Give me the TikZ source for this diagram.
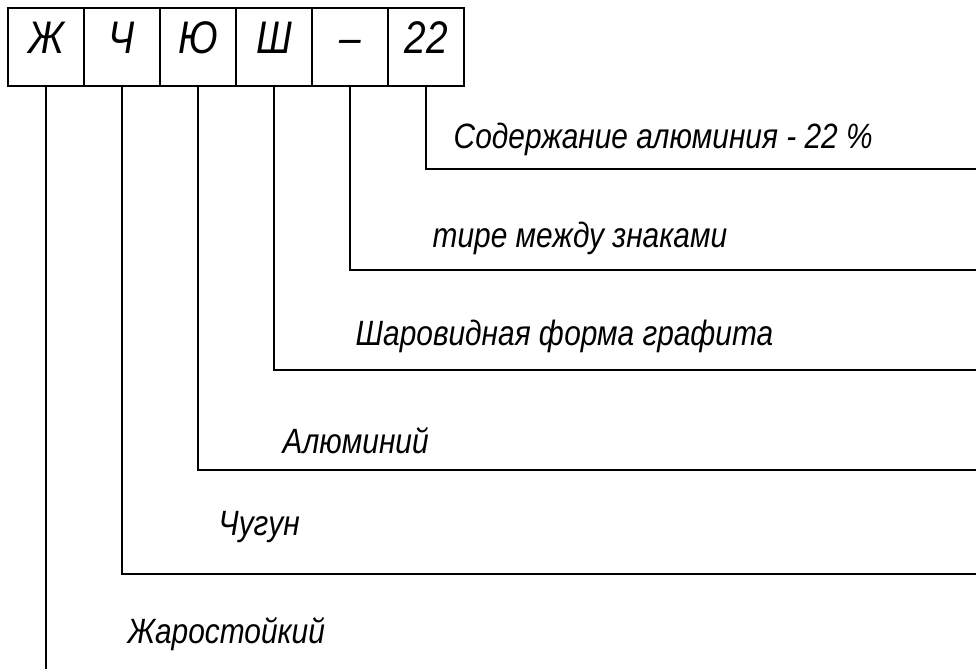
\documentclass[tikz,border=0pt]{standalone}
\usepackage{fontspec}
\setmainfont{Liberation Sans}[FakeStretch=0.85]

\begin{document}
\begin{tikzpicture}[x=0.02cm, y=-0.02cm, line width=0.8pt,
    font=\fontsize{20}{24}\selectfont\itshape,
    cell/.style={draw, minimum width=1.52cm, minimum height=1.56cm, inner sep=0pt,
        text height=0.72em, text depth=0pt,
        font=\fontsize{26}{28}\selectfont\itshape},
    lbl/.style={anchor=base west, inner sep=0pt}]
    \useasboundingbox (0,0) rectangle (976,669);
    \foreach \i/\t in {1/Ж, 2/Ч, 3/Ю, 4/Ш, 5/–, 6/22}
        \node[cell] (b\i) at ({46+76*(\i-1)},47) {\t};
    \coordinate (e1) at (46,669);
    \draw (b1.south) -- (e1);
    \foreach \i/\y in {2/574, 3/470, 4/370, 5/270, 6/169} {
        \coordinate (e\i) at (976,\y);
        \draw (b\i.south) |- (e\i);
    }
    \node[lbl] (t6) at (453,148) {Содержание алюминия - 22 \%};
    \node[lbl] (t5) at (432,247) {тире между знаками};
    \node[lbl] (t4) at (355,345) {Шаровидная форма графита};
    \node[lbl] (t3) at (282,453) {Алюминий};
    \node[lbl] (t2) at (218,535) {Чугун};
    \node[lbl] (t1) at (127,643) {Жаростойкий};
\end{tikzpicture}
\end{document}
